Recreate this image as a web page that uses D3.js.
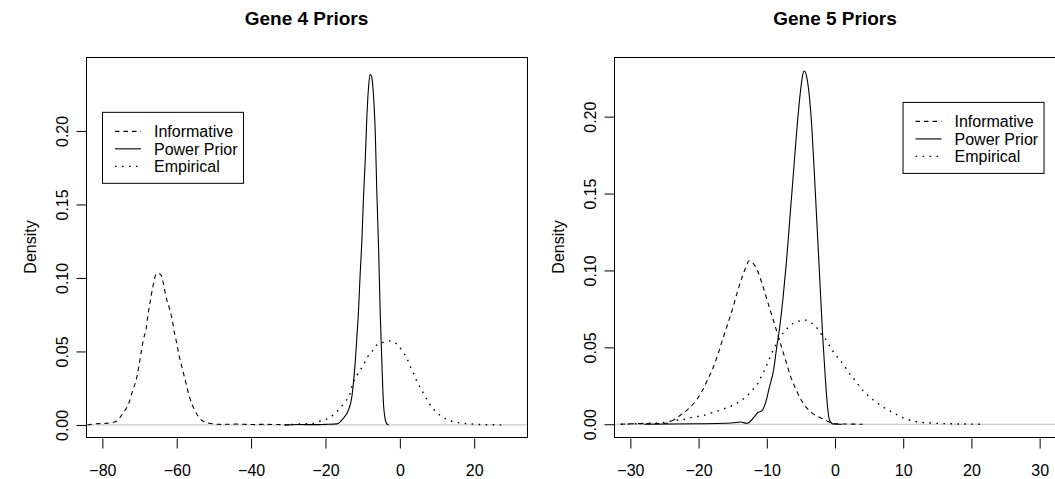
<!DOCTYPE html>
<html>
<head>
<meta charset="utf-8">
<script src="https://cdnjs.cloudflare.com/ajax/libs/d3/7.8.5/d3.min.js"></script>
<style>
  body { margin: 0; background: #fff; }
  svg text { font-family: "Liberation Sans", Arial, Helvetica, sans-serif; fill: #000; }
</style>
</head>
<body>
<svg id="chart" width="1055" height="479"></svg>
<script>
"use strict";

// density curves, as [x, density] pairs
var gene4Informative = [[-84.0,0.0000],[-82.1,0.0007],[-79.0,0.0011],[-76.3,0.0023],[-74.5,0.0079],[-72.9,0.0147],[-71.8,0.0238],[-70.9,0.0306],[-70.2,0.0397],[-69.6,0.0488],[-69.0,0.0578],[-68.2,0.0658],[-67.8,0.0737],[-67.3,0.0816],[-66.4,0.0941],[-65.55,0.1027],[-65.1,0.1032],[-64.2,0.1020],[-63.6,0.0964],[-62.9,0.0873],[-62.1,0.0805],[-61.2,0.0714],[-60.6,0.0624],[-60.0,0.0556],[-59.3,0.0465],[-58.4,0.0374],[-57.5,0.0283],[-56.6,0.0193],[-55.2,0.0102],[-53.4,0.0034],[-51.2,0.0011],[-48.0,0.0004],[-44.0,0.0006],[-40.0,0.0003],[-36.0,0.0004],[-32.0,0.0002],[-29.0,0.0000]];
var gene4Power = [[-30.5,0.0000],[-27.0,0.0003],[-23.0,0.0002],[-20.0,0.0004],[-16.9,0.0007],[-15.2,0.0045],[-13.8,0.0102],[-12.9,0.0193],[-12.5,0.0283],[-12.0,0.0424],[-11.6,0.0578],[-11.1,0.0782],[-10.7,0.1009],[-10.2,0.1259],[-9.8,0.1531],[-9.3,0.1803],[-8.9,0.2075],[-8.4,0.2302],[-8.0,0.2385],[-7.6,0.2370],[-7.1,0.2250],[-6.6,0.1984],[-6.2,0.1599],[-5.7,0.1190],[-5.3,0.0782],[-4.8,0.0397],[-4.4,0.0147],[-3.9,0.0034],[-3.5,0.0007],[-3.0,0.0000]];
var gene4Empirical = [[-31.0,0.0000],[-29.0,0.0003],[-26.8,0.0007],[-23.7,0.0009],[-21.4,0.0027],[-19.2,0.0045],[-17.4,0.0079],[-16.1,0.0113],[-14.7,0.0159],[-13.5,0.0204],[-12.9,0.0261],[-12.0,0.0317],[-10.9,0.0363],[-9.8,0.0408],[-8.9,0.0454],[-7.5,0.0499],[-6.2,0.0544],[-4.4,0.0562],[-2.4,0.0572],[-0.6,0.0544],[0.8,0.0499],[1.9,0.0454],[2.8,0.0397],[3.7,0.0351],[4.6,0.0295],[5.6,0.0249],[6.6,0.0204],[7.7,0.0154],[9.0,0.0110],[10.7,0.0068],[12.6,0.0038],[14.6,0.0021],[17.0,0.0011],[20.0,0.0005],[23.0,0.0002],[26.0,0.0001],[28.3,0.0000]];

var gene5Informative = [[-31.4,0.0000],[-28.7,0.0004],[-26.2,0.0004],[-24.8,0.0006],[-23.8,0.0024],[-22.6,0.0061],[-21.4,0.0104],[-20.3,0.0158],[-19.4,0.0223],[-18.7,0.0288],[-17.9,0.0364],[-17.2,0.0450],[-16.5,0.0548],[-15.7,0.0656],[-15.0,0.0753],[-14.3,0.0862],[-13.6,0.0959],[-13.0,0.1028],[-12.6,0.1063],[-12.0,0.1046],[-11.3,0.0992],[-10.7,0.0916],[-10.1,0.0829],[-9.5,0.0743],[-8.9,0.0656],[-8.3,0.0569],[-7.7,0.0483],[-7.1,0.0396],[-6.5,0.0310],[-5.8,0.0234],[-5.1,0.0169],[-4.3,0.0115],[-3.3,0.0071],[-2.3,0.0045],[-1.3,0.0024],[-0.3,0.0006],[1.1,0.0002],[4.05,0.0000]];
var gene5Power = [[-28.0,0.0000],[-24.0,0.0002],[-20.0,0.0003],[-16.0,0.0006],[-14.5,0.0011],[-13.8,0.0015],[-13.0,0.0006],[-12.6,0.0011],[-12.0,0.0039],[-11.3,0.0076],[-10.7,0.0089],[-10.2,0.0136],[-9.6,0.0245],[-9.0,0.0353],[-8.6,0.0483],[-8.1,0.0634],[-7.6,0.0829],[-7.1,0.1067],[-6.6,0.1349],[-6.1,0.1630],[-5.6,0.1912],[-5.1,0.2150],[-4.7,0.2280],[-4.5,0.2297],[-4.2,0.2269],[-3.8,0.2150],[-3.4,0.1933],[-3.0,0.1609],[-2.6,0.1262],[-2.2,0.0916],[-1.8,0.0569],[-1.4,0.0288],[-1.1,0.0115],[-0.8,0.0028],[-0.3,0.0002],[1.0,0.0000]];
var gene5Empirical = [[-31.4,0.0000],[-30.1,0.0002],[-28.7,0.0004],[-27.5,0.0006],[-26.2,0.0006],[-25.0,0.0011],[-23.6,0.0024],[-22.1,0.0032],[-20.9,0.0045],[-19.4,0.0056],[-17.9,0.0076],[-16.5,0.0097],[-15.2,0.0119],[-14.0,0.0147],[-13.0,0.0180],[-12.1,0.0223],[-11.3,0.0266],[-10.7,0.0320],[-10.1,0.0375],[-9.4,0.0450],[-8.7,0.0515],[-8.0,0.0569],[-7.2,0.0613],[-6.5,0.0645],[-5.5,0.0667],[-4.5,0.0678],[-3.5,0.0660],[-2.8,0.0634],[-2.1,0.0591],[-1.3,0.0548],[-0.6,0.0494],[0.1,0.0450],[0.9,0.0407],[1.6,0.0364],[2.3,0.0320],[3.1,0.0277],[3.8,0.0234],[4.5,0.0201],[5.3,0.0169],[6.0,0.0145],[7.0,0.0113],[8.0,0.0088],[10.0,0.0042],[12.0,0.0016],[14.0,0.0008],[16.0,0.0004],[18.0,0.0002],[20.0,0.0001],[21.5,0.0000]];

var gene4XTicks = [-80, -60, -40, -20, 0, 20];
var gene5XTicks = [-30, -20, -10, 0, 10, 20, 30];
var yTicks = [0, 0.05, 0.10, 0.15, 0.20];
var legendLabels = ["Informative", "Power Prior", "Empirical"];

var DASH = { "Informative": "4.5,4", "Power Prior": null, "Empirical": "1.6,5.4" };
var WIDTH = { "Informative": 1.1, "Power Prior": 1.1, "Empirical": 1.4 };

var svg = d3.select("#chart");
svg.append("rect").attr("width", 1055).attr("height", 479).attr("fill", "#fff");

var panels = [
  { title: "Gene 4 Priors", left: 86, right: 527, xlim: [-84.4, 34.2], ylim: [-0.0082, 0.2503],
    xTicks: gene4XTicks, legendAt: [-80.1, 0.213],
    curves: { "Informative": gene4Informative, "Power Prior": gene4Power, "Empirical": gene4Empirical } },
  { title: "Gene 5 Priors", left: 614, right: 1056, xlim: [-32.4, 32.4], ylim: [-0.0083, 0.2388],
    xTicks: gene5XTicks, legendAt: [9.9, 0.2096],
    curves: { "Informative": gene5Informative, "Power Prior": gene5Power, "Empirical": gene5Empirical } }
];

var plotTop = 57, plotBottom = 437;

function fmtX(d) { return d < 0 ? "\u2212" + Math.abs(d) : String(d); }

panels.forEach(function(p) {
  var x = d3.scaleLinear().domain(p.xlim).range([p.left, p.right]);
  var y = d3.scaleLinear().domain(p.ylim).range([plotBottom, plotTop]);
  var g = svg.append("g");
  var mid = (p.left + p.right) / 2;

  g.append("text")
    .attr("x", mid).attr("y", 25)
    .attr("text-anchor", "middle")
    .style("font-size", "19px").style("font-weight", "bold")
    .text(p.title);

  // zero line
  g.append("line")
    .attr("x1", p.left).attr("x2", p.right)
    .attr("y1", y(0)).attr("y2", y(0))
    .attr("stroke", "#bebebe").attr("stroke-width", 1);

  var line = d3.line()
    .x(function(d) { return x(d[0]); })
    .y(function(d) { return y(d[1]); })
    .curve(d3.curveMonotoneX);

  legendLabels.forEach(function(k) {
    g.append("path")
      .datum(p.curves[k])
      .attr("d", line)
      .attr("fill", "none")
      .attr("stroke", "#000")
      .attr("stroke-width", WIDTH[k])
      .attr("stroke-dasharray", DASH[k]);
  });

  // frame
  g.append("rect")
    .attr("x", p.left + 0.5).attr("y", plotTop + 0.5)
    .attr("width", p.right - p.left).attr("height", plotBottom - plotTop)
    .attr("fill", "none").attr("stroke", "#000").attr("stroke-width", 1);

  // x axis
  var xAxis = d3.axisBottom(x).tickValues(p.xTicks).tickSize(10).tickPadding(16).tickFormat(fmtX);
  var xa = g.append("g").attr("transform", "translate(0," + (plotBottom + 1.5) + ")").call(xAxis);
  xa.select(".domain").remove();
  xa.selectAll("text").style("font-size", "16px").style("font-family", "Liberation Sans, Arial, sans-serif");
  xa.selectAll("line").attr("stroke", "#000");

  // y axis, labels turned like R's las=0
  var yAxis = d3.axisLeft(y).tickValues(yTicks).tickSize(10).tickFormat(d3.format(".2f"));
  var ya = g.append("g").attr("transform", "translate(" + (p.left + 0.5) + ",0)").call(yAxis);
  ya.select(".domain").remove();
  ya.selectAll("line").attr("stroke", "#000");
  ya.selectAll("text")
    .attr("x", null).attr("dy", null)
    .attr("text-anchor", "middle")
    .attr("transform", "translate(-19,0) rotate(-90)")
    .style("font-size", "16px").style("font-family", "Liberation Sans, Arial, sans-serif");

  g.append("text")
    .attr("transform", "translate(" + (p.left - 50) + "," + ((plotTop + plotBottom) / 2) + ") rotate(-90)")
    .attr("text-anchor", "middle")
    .style("font-size", "16px")
    .text("Density");

  // legend
  var lx = x(p.legendAt[0]), ly = y(p.legendAt[1]);
  var lg = g.append("g").attr("transform", "translate(" + lx + "," + ly + ")");
  lg.append("rect")
    .attr("x", 0.5).attr("y", 0.5).attr("width", 141).attr("height", 71)
    .attr("fill", "#fff").attr("stroke", "#000");
  legendLabels.forEach(function(k, i) {
    var yy = 19.5 + i * 17.5;
    lg.append("line")
      .attr("x1", 13).attr("x2", 39).attr("y1", yy).attr("y2", yy)
      .attr("stroke", "#000").attr("stroke-width", WIDTH[k])
      .attr("stroke-dasharray", DASH[k]);
    lg.append("text")
      .attr("x", 52).attr("y", yy + 6)
      .style("font-size", "16px")
      .text(k);
  });
});
</script>
</body>
</html>
